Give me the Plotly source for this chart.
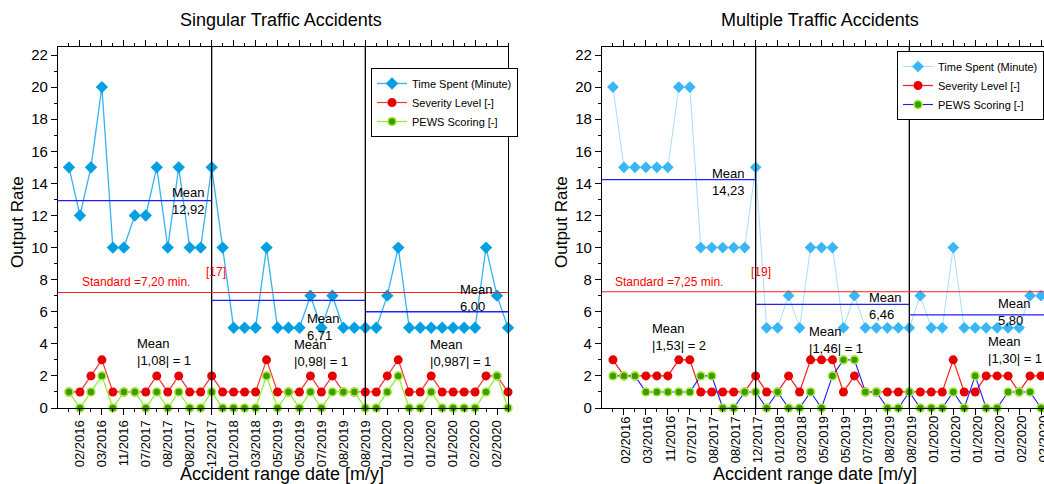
import plotly.graph_objects as go

# ---------------- data ----------------
tick_labels = ["02/2016", "03/2016", "11/2016", "07/2017", "08/2017", "08/2017", "12/2017",
               "01/2018", "03/2018", "05/2019", "05/2019", "07/2019", "08/2019", "08/2019",
               "01/2020", "01/2020", "01/2020", "01/2020", "02/2020", "02/2020"]

single_time = [15, 12, 15, 20, 10, 10, 12, 12, 15, 10, 15, 10, 10, 15,
               10, 5, 5, 5, 10, 5, 5, 5, 7, 5, 7, 5, 5, 5,
               5, 7, 10, 5, 5, 5, 5, 5, 5, 5, 10, 7, 5]
single_sev = [1, 1, 2, 3, 1, 1, 1, 1, 2, 1, 2, 1, 1, 2,
              1, 1, 1, 1, 3, 1, 1, 1, 2, 1, 2, 1, 1, 1,
              1, 2, 3, 1, 1, 2, 1, 1, 1, 1, 2, 2, 1]
single_pews = [1, 0, 1, 2, 0, 1, 1, 0, 1, 0, 1, 0, 0, 1,
               0, 0, 0, 0, 2, 0, 1, 0, 1, 0, 1, 1, 1, 0,
               0, 1, 2, 0, 0, 1, 0, 0, 0, 0, 1, 2, 0]

multi_time = [20, 15, 15, 15, 15, 15, 20, 20, 10, 10, 10, 10, 10, 15,
              5, 5, 7, 5, 10, 10, 10, 5, 7, 5, 5, 5, 5, 5,
              7, 5, 5, 10, 5, 5, 5, 5, 5, 5, 7, 7]
multi_sev = [3, 2, 2, 2, 2, 2, 3, 3, 1, 1, 1, 1, 1, 2,
             1, 1, 2, 1, 3, 3, 3, 1, 2, 1, 1, 1, 1, 1,
             1, 1, 1, 3, 1, 1, 2, 2, 2, 1, 2, 2]
multi_pews = [2, 2, 2, 1, 1, 1, 1, 1, 2, 2, 0, 0, 1, 1,
              0, 1, 0, 0, 1, 0, 2, 3, 3, 1, 1, 0, 0, 1,
              0, 0, 0, 1, 0, 2, 0, 0, 1, 1, 1, 0]

segment_bounds = [0, 14, 28, 41]
single_means = [12.92, 6.71, 6.00]
multi_means = [14.23, 6.46, 5.80]
single_standard = 7.20
multi_standard = 7.25

single_mean_text = ["Mean<br>12,92", "Mean<br>6,71", "Mean<br>6,00"]
multi_mean_text = ["Mean<br>14,23", "Mean<br>6,46", "Mean<br>5,80"]
single_score_text = ["Mean<br>|1,08| = 1", "Mean<br>|0,98| = 1", "Mean<br>|0,987| = 1"]
multi_score_text = ["Mean<br>|1,53| = 2", "Mean<br>|1,46| = 1", "Mean<br>|1,30| = 1"]

# ---------------- figure ----------------
FONT = "Liberation Sans, Arial, sans-serif"
W, H = 1056, 484   # the right panel runs slightly past the 1044 px window, as in the reference
fig = go.Figure()

xs_single = list(range(1, len(single_time) + 1))
xs_multi = list(range(1, len(multi_time) + 1))

# Left panel traces
fig.add_trace(go.Scatter(x=xs_single, y=single_time, mode="lines+markers", name="Time Spent (Minute)",
                         line=dict(color="#33b4f0", width=1.3),
                         marker=dict(symbol="diamond", size=9.5, color="#00a0e3"),
                         xaxis="x", yaxis="y", legend="legend", cliponaxis=False))
fig.add_trace(go.Scatter(x=xs_single, y=single_sev, mode="lines+markers", name="Severity Level [-]",
                         line=dict(color="#ff3030", width=1.2),
                         marker=dict(symbol="circle", size=9, color="#e60000"),
                         xaxis="x", yaxis="y", legend="legend", cliponaxis=False))
fig.add_trace(go.Scatter(x=xs_single, y=single_pews, mode="lines+markers", name="PEWS Scoring [-]",
                         line=dict(color="#88f020", width=1.2),
                         marker=dict(symbol="circle", size=8, color="#3f9a00",
                                     line=dict(color="#a8ec40", width=1.6)),
                         xaxis="x", yaxis="y", legend="legend", cliponaxis=False))

# Right panel traces
fig.add_trace(go.Scatter(x=xs_multi, y=multi_time, mode="lines+markers", name="Time Spent (Minute)",
                         line=dict(color="#a8dcff", width=1),
                         marker=dict(symbol="diamond", size=9, color="#38b6f6"),
                         xaxis="x2", yaxis="y2", legend="legend2", cliponaxis=False))
fig.add_trace(go.Scatter(x=xs_multi, y=multi_sev, mode="lines+markers", name="Severity Level [-]",
                         line=dict(color="#ff1a1a", width=1.2),
                         marker=dict(symbol="circle", size=9, color="#e60000"),
                         xaxis="x2", yaxis="y2", legend="legend2", cliponaxis=False))
fig.add_trace(go.Scatter(x=xs_multi, y=multi_pews, mode="lines+markers", name="PEWS Scoring [-]",
                         line=dict(color="#1a1aff", width=1.1),
                         marker=dict(symbol="circle", size=8, color="#3f9a00",
                                     line=dict(color="#a8ec40", width=1.6)),
                         xaxis="x2", yaxis="y2", legend="legend2", cliponaxis=False))

shapes = []
annotations = []


def panel_decor(xref, yref, means, standard, xmax, mean_text, score_text, std_text, ref_text,
                mean_pos, score_pos, std_pos, ref_pos):
    # vertical separators
    for b in segment_bounds[1:-1]:
        shapes.append(dict(type="line", xref=xref, yref=yref + " domain", x0=b, x1=b, y0=0, y1=1,
                           line=dict(color="black", width=1.3)))
    # mean lines
    for i, m in enumerate(means):
        x0 = segment_bounds[i]
        x1 = min(segment_bounds[i + 1], xmax)
        shapes.append(dict(type="line", xref=xref, yref=yref, x0=x0, x1=x1, y0=m, y1=m,
                           line=dict(color="#1f1fff", width=1.3)))
    # standard line
    shapes.append(dict(type="line", xref=xref + " domain", yref=yref, x0=0, x1=1, y0=standard, y1=standard,
                       line=dict(color="#ff2020", width=1.1)))
    for t, (px, py) in zip(mean_text, mean_pos):
        annotations.append(dict(text=t, xref=xref, yref=yref, x=px, y=py, showarrow=False,
                                xanchor="left", yanchor="middle", align="left",
                                font=dict(family=FONT, size=13, color="black")))
    for t, (px, py) in zip(score_text, score_pos):
        annotations.append(dict(text=t, xref=xref, yref=yref, x=px, y=py, showarrow=False,
                                xanchor="left", yanchor="middle", align="left",
                                font=dict(family=FONT, size=13, color="black")))
    annotations.append(dict(text=std_text, xref=xref, yref=yref, x=std_pos[0], y=std_pos[1], showarrow=False,
                            xanchor="left", yanchor="middle",
                            font=dict(family=FONT, size=12, color="#ff0000")))
    annotations.append(dict(text=ref_text, xref=xref, yref=yref, x=ref_pos[0], y=ref_pos[1], showarrow=False,
                            xanchor="left", yanchor="middle",
                            font=dict(family=FONT, size=12, color="#ff0000")))


panel_decor("x", "y", single_means, single_standard, 41, single_mean_text, single_score_text,
            "Standard =7,20 min.", "[17]",
            [(10.2, 12.9), (22.5, 5.05), (36.4, 6.85)],
            [(7.0, 3.5), (21.3, 3.4), (33.7, 3.4)],
            (2.0, 7.85), (13.3, 8.45))
panel_decor("x2", "y2", multi_means, multi_standard, 41, multi_mean_text, multi_score_text,
            "Standard =7,25 min.", "[19]",
            [(9.85, 14.1), (24.1, 6.35), (35.9, 6.0)],
            [(4.4, 4.45), (18.7, 4.25), (35.0, 3.6)],
            (1.0, 7.85), (13.4, 8.45))


def paper_text(text, px, py, size, angle=0):
    annotations.append(dict(text=text, xref="paper", yref="paper", x=px / W, y=1 - py / H,
                            showarrow=False, xanchor="center", yanchor="middle", textangle=angle,
                            font=dict(family=FONT, size=size, color="black")))


# titles and axis titles
paper_text("Singular Traffic Accidents", 281, 20, 18)
paper_text("Multiple Traffic Accidents", 820, 20, 18)
paper_text("Accident range date [m/y]", 282, 474, 18)
paper_text("Accident range date [m/y]", 815, 474, 18)
paper_text("Output Rate", 17, 222, 17, -90)
paper_text("Output Rate", 561, 222, 17, -90)

tickvals = list(range(2, 41, 2))
minor_vals = list(range(1, 42, 2))

# right panel date labels: placed on the x2 data axis (the window edge would hide the last native one)
for v, lab in zip(tickvals, tick_labels):
    annotations.append(dict(text=lab, xref="x2", yref="paper", x=v, y=1 - 414 / H, xshift=2,
                            showarrow=False, xanchor="center", yanchor="top", textangle=-90,
                            font=dict(family=FONT, size=13, color="black")))

xaxis_common = dict(range=[0, 41], tickmode="array", tickvals=tickvals, ticktext=tick_labels,
                    tickangle=-90, ticks="outside", ticklen=6, tickwidth=1.3, tickcolor="black",
                    showline=True, linecolor="black", linewidth=1.3, mirror="ticks",
                    showgrid=False, zeroline=False, automargin=False, ticklabeloverflow="allow",
                    tickfont=dict(family=FONT, size=13, color="black"),
                    minor=dict(tickmode="array", tickvals=minor_vals, ticks="outside", ticklen=3,
                               tickwidth=1.2, tickcolor="black", showgrid=False))
yaxis_common = dict(range=[0, 22.5], tickmode="array", tickvals=list(range(0, 23, 2)),
                    ticks="outside", ticklen=6, tickwidth=1.3, tickcolor="black",
                    showline=True, linecolor="black", linewidth=1.3,
                    showgrid=False, zeroline=False, automargin=False,
                    tickfont=dict(family=FONT, size=15, color="black"),
                    minor=dict(tickmode="array", tickvals=list(range(1, 23, 2)), ticks="outside", ticklen=3,
                               tickwidth=1.2, tickcolor="black", showgrid=False))

y_dom = [(H - 408) / H, (H - 47) / H]

fig.update_layout(
    width=W, height=H,
    margin=dict(l=0, r=0, t=0, b=0, autoexpand=False),
    paper_bgcolor="white", plot_bgcolor="white",
    xaxis=dict(xaxis_common, domain=[58 / W, 508 / W], anchor="y"),
    yaxis=dict(yaxis_common, domain=y_dom, anchor="x", mirror=True),
    xaxis2=dict(xaxis_common, domain=[602 / W, 1052 / W], anchor="y2", showticklabels=False),
    yaxis2=dict(yaxis_common, domain=y_dom, anchor="x2", mirror=True),
    shapes=shapes,
    annotations=annotations,
    legend=dict(x=371 / W, y=1 - 68 / H, xanchor="left", yanchor="top",
                bgcolor="white", bordercolor="black", borderwidth=1,
                font=dict(family=FONT, size=11, color="black"),
                itemwidth=30, tracegroupgap=0),
    legend2=dict(x=1044 / W, y=1 - 51 / H, xanchor="right", yanchor="top",
                 bgcolor="white", bordercolor="black", borderwidth=1,
                 font=dict(family=FONT, size=11, color="black"),
                 itemwidth=30, tracegroupgap=0),
    showlegend=True,
)

fig.write_html("out.html", config={"displayModeBar": False},
               post_script="document.body.style.margin='0px';"
                           "document.body.style.overflow='hidden';"
                           "document.documentElement.style.overflow='hidden';")
